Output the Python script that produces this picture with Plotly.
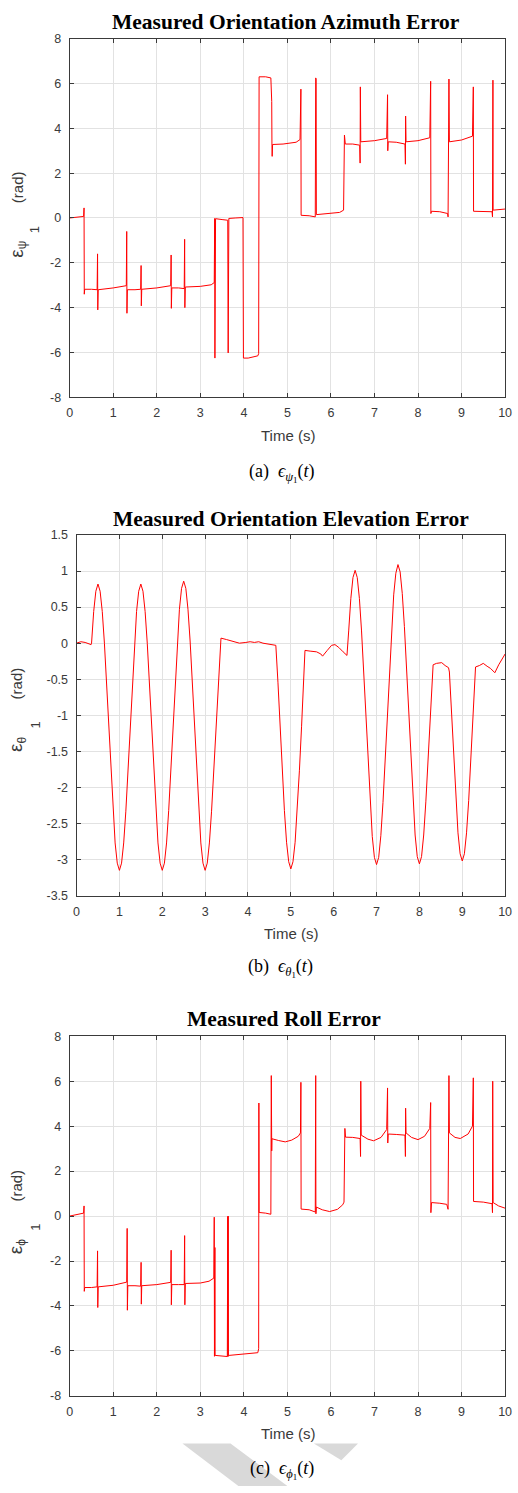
import plotly.graph_objects as go

W, H = 518, 1493

# ---------------- data ----------------
T_AZ = [0.00, 0.15, 0.32, 0.33, 0.335, 0.345, 0.50, 0.63, 0.64, 0.645, 0.655,
        1.00, 1.30, 1.31, 1.315, 1.325, 1.50, 1.63, 1.64, 1.645, 1.655,
        2.00, 2.32, 2.33, 2.335, 2.345, 2.50, 2.63, 2.64, 2.645, 2.655,
        3.00, 3.25, 3.32, 3.33, 3.335, 3.34, 3.345, 3.35, 3.50, 3.63, 3.64, 3.655,
        3.80, 3.98, 3.99, 4.10, 4.32, 4.34, 4.35, 4.50, 4.62, 4.64, 4.645, 4.65, 4.66,
        4.90, 5.20, 5.29, 5.31, 5.315, 5.50, 5.64, 5.65, 5.655, 5.66, 5.665,
        5.90, 6.20, 6.29, 6.31, 6.33, 6.50, 6.66, 6.67, 6.675, 6.685,
        7.00, 7.28, 7.30, 7.305, 7.315, 7.50, 7.70, 7.71, 7.715, 7.725,
        8.00, 8.27, 8.29, 8.295, 8.31, 8.50, 8.68, 8.69, 8.71, 8.72,
        9.00, 9.25, 9.27, 9.275, 9.50, 9.70, 9.71, 9.72, 9.725, 10.00]
Y_AZ = [0.00, 0.03, 0.07, 0.45, -3.40, -3.18, -3.18, -3.20, -1.60, -4.10, -3.20,
        -3.12, -3.02, -0.60, -4.25, -3.20, -3.20, -3.18, -2.12, -3.92, -3.18,
        -3.12, -3.02, -1.65, -4.03, -3.12, -3.12, -3.15, -0.95, -4.00, -3.08,
        -3.05, -2.98, -2.88, -0.02, -6.25, -1.50, -4.80, -0.03, -0.07, -0.10, -6.02, -0.02,
        0.00, 0.02, -6.25, -6.25, -6.15, -6.05, 6.30, 6.30, 6.25, 5.20, 3.25, 2.75, 3.28,
        3.30, 3.38, 3.50, 5.75, 0.12, 0.10, 0.05, 6.25, 1.50, 6.20, 0.15,
        0.18, 0.25, 0.35, 3.70, 3.30, 3.30, 3.25, 2.45, 5.85, 3.40,
        3.45, 3.55, 5.50, 3.00, 3.40, 3.38, 3.30, 2.40, 4.55, 3.40,
        3.45, 3.58, 6.10, 0.20, 0.30, 0.28, 0.20, 0.05, 6.20, 3.40,
        3.48, 3.65, 5.85, 0.30, 0.30, 0.28, 0.05, 6.15, 0.35, 0.40]

T_EL = [0.00, 0.10, 0.20, 0.30, 0.34, 0.35, 0.40, 0.45, 0.50, 0.55, 0.60, 0.65, 0.70, 0.75, 0.80, 0.85, 0.90, 0.95, 1.00,
        1.05, 1.10, 1.15, 1.20, 1.25, 1.30, 1.35, 1.40, 1.45, 1.50, 1.55, 1.60, 1.65, 1.70, 1.75, 1.80, 1.85, 1.90, 1.95, 2.00,
        2.05, 2.10, 2.15, 2.20, 2.25, 2.30, 2.35, 2.40, 2.45, 2.50, 2.55, 2.60, 2.65, 2.70, 2.75, 2.80, 2.85, 2.90, 2.95, 3.00,
        3.05, 3.10, 3.15, 3.20, 3.25, 3.30, 3.35, 3.37, 3.50, 3.65, 3.80, 3.95, 4.05, 4.15, 4.25, 4.35, 4.50, 4.65,
        4.70, 4.75, 4.80, 4.85, 4.90, 4.95, 5.00, 5.05, 5.10, 5.15, 5.20, 5.25, 5.30, 5.33,
        5.45, 5.60, 5.70, 5.74, 5.85, 5.95, 6.03, 6.12, 6.22, 6.31,
        6.35, 6.40, 6.45, 6.50, 6.55, 6.60, 6.65, 6.70, 6.75, 6.80, 6.85, 6.90, 6.95, 7.00,
        7.05, 7.10, 7.15, 7.20, 7.25, 7.30, 7.35, 7.40, 7.45, 7.50, 7.55, 7.60, 7.65, 7.70, 7.75, 7.80, 7.85, 7.90, 7.95, 8.00,
        8.05, 8.10, 8.15, 8.20, 8.25, 8.30, 8.32, 8.40, 8.52, 8.60, 8.68,
        8.70, 8.75, 8.80, 8.85, 8.90, 8.95, 9.00, 9.05, 9.10, 9.15, 9.20, 9.25, 9.30, 9.31,
        9.40, 9.49, 9.58, 9.66, 9.76, 9.85, 10.00]
Y_EL = [0.00, 0.02, 0.01, -0.01, -0.02, 0.00, 0.44, 0.72, 0.82, 0.72, 0.44, 0.00, -0.55, -1.17, -1.78, -2.33, -2.77, -3.05, -3.15,
        -3.05, -2.77, -2.33, -1.78, -1.17, -0.55, 0.00, 0.44, 0.72, 0.82, 0.72, 0.44, 0.00, -0.55, -1.17, -1.78, -2.33, -2.77, -3.05, -3.15,
        -3.05, -2.77, -2.32, -1.76, -1.15, -0.52, 0.03, 0.47, 0.76, 0.86, 0.76, 0.47, 0.03, -0.52, -1.15, -1.76, -2.32, -2.77, -3.05, -3.15,
        -3.05, -2.77, -2.33, -1.78, -1.17, -0.55, -0.02, 0.07, 0.05, 0.02, 0.00, 0.01, 0.02, 0.01, 0.02, 0.00, -0.01, -0.03,
        -0.55, -1.16, -1.77, -2.32, -2.76, -3.03, -3.13, -3.03, -2.76, -2.32, -1.77, -1.16, -0.55, -0.10,
        -0.11, -0.12, -0.15, -0.18, -0.10, -0.03, -0.02, -0.06, -0.12, -0.17,
        0.17, 0.62, 0.91, 1.01, 0.91, 0.62, 0.17, -0.40, -1.03, -1.66, -2.23, -2.68, -2.97, -3.07,
        -2.97, -2.67, -2.21, -1.64, -1.00, -0.36, 0.21, 0.67, 0.97, 1.09, 0.99, 0.69, 0.23, -0.34, -0.99, -1.63, -2.20, -2.66, -2.96, -3.06,
        -2.96, -2.66, -2.20, -1.63, -0.99, -0.34, -0.30, -0.28, -0.27, -0.31, -0.34,
        -0.40, -1.00, -1.62, -2.18, -2.63, -2.92, -3.02, -2.92, -2.63, -2.18, -1.62, -1.00, -0.40, -0.33,
        -0.31, -0.28, -0.32, -0.35, -0.41, -0.30, -0.15]

T_RO = [0.00, 0.15, 0.32, 0.33, 0.335, 0.345, 0.50, 0.63, 0.64, 0.645, 0.655,
        1.00, 1.31, 1.32, 1.325, 1.335, 1.50, 1.63, 1.64, 1.645, 1.655,
        2.00, 2.32, 2.33, 2.335, 2.345, 2.50, 2.63, 2.64, 2.645, 2.655,
        3.00, 3.20, 3.31, 3.32, 3.325, 3.33, 3.335, 3.34, 3.50, 3.62, 3.63, 3.635, 3.64, 3.645, 3.66,
        4.00, 4.32, 4.34, 4.345, 4.35, 4.50, 4.62, 4.63, 4.635, 4.64, 4.645,
        4.80, 4.95, 5.10, 5.25, 5.30, 5.31, 5.315, 5.50, 5.64, 5.65, 5.655, 5.665,
        5.80, 5.97, 6.15, 6.27, 6.30, 6.32, 6.335, 6.50, 6.67, 6.68, 6.685, 6.695,
        6.85, 6.98, 7.15, 7.28, 7.30, 7.305, 7.315, 7.50, 7.70, 7.71, 7.715, 7.725,
        7.85, 8.00, 8.15, 8.27, 8.29, 8.295, 8.31, 8.50, 8.66, 8.69, 8.71, 8.72,
        8.85, 8.97, 9.15, 9.25, 9.27, 9.275, 9.50, 9.70, 9.71, 9.715, 9.725, 9.85, 10.00]
Y_RO = [0.00, 0.05, 0.13, 0.45, -3.35, -3.18, -3.18, -3.15, -1.55, -4.07, -3.15,
        -3.08, -2.94, -0.55, -4.19, -3.10, -3.10, -3.12, -2.06, -3.92, -3.10,
        -3.05, -2.95, -1.52, -3.95, -3.05, -3.05, -3.05, -0.87, -3.95, -3.00,
        -2.98, -2.90, -2.76, -0.05, -6.24, -4.70, -1.40, -6.20, -6.22, -6.25, -0.02, -6.25, 0.00, -6.22, -6.20,
        -6.15, -6.08, -5.90, 5.03, 0.16, 0.13, 0.08, 6.25, 5.40, 2.90, 3.44,
        3.36, 3.30, 3.38, 3.55, 3.70, 5.95, 0.31, 0.28, 0.18, 6.25, 0.10, 0.40,
        0.28, 0.20, 0.30, 0.50, 0.62, 3.90, 3.51, 3.50, 3.45, 2.65, 6.00, 3.60,
        3.42, 3.35, 3.50, 3.85, 5.70, 3.25, 3.65, 3.63, 3.60, 2.65, 4.80, 3.70,
        3.50, 3.40, 3.55, 3.90, 5.05, 0.15, 0.60, 0.57, 0.52, 0.30, 6.25, 3.70,
        3.50, 3.45, 3.65, 4.00, 6.15, 0.65, 0.62, 0.55, 0.15, 6.00, 0.60, 0.45, 0.35]

assert len(T_AZ) == len(Y_AZ), (len(T_AZ), len(Y_AZ))
assert len(T_EL) == len(Y_EL), (len(T_EL), len(Y_EL))
assert len(T_RO) == len(Y_RO), (len(T_RO), len(Y_RO))

X_TICKS = [0, 1, 2, 3, 4, 5, 6, 7, 8, 9, 10]
X_TICK_TEXT = ["0", "1", "2", "3", "4", "5", "6", "7", "8", "9", "10"]
Y_TICKS_8 = [-8, -6, -4, -2, 0, 2, 4, 6, 8]
Y_TICK_TEXT_8 = ["-8", "-6", "-4", "-2", "0", "2", "4", "6", "8"]
Y_TICKS_EL = [-3.5, -3, -2.5, -2, -1.5, -1, -0.5, 0, 0.5, 1, 1.5]
Y_TICK_TEXT_EL = ["-3.5", "-3", "-2.5", "-2", "-1.5", "-1", "-0.5", "0", "0.5", "1", "1.5"]

TITLES = ["Measured Orientation Azimuth Error",
          "Measured Orientation Elevation Error",
          "Measured Roll Error"]
X_LABEL = "Time (s)"
SUB_SYMBOLS = ["ψ", "θ", "ϕ"]
SUB_INDEX = "1"


def y_label(sym):
    return ('<span style="font-size:19px">ε</span>'
            '<sub><span style="font-size:12px">' + sym + '</span></sub>'
            + ' ' * 9 + '(rad)')


Y_LABELS = [y_label(s) for s in SUB_SYMBOLS]
CAPTIONS = ["(a)  <i>ϵ</i><sub><i>ψ</i><sub>1</sub></sub>(<i>t</i>)",
            "(b)  <i>ϵ</i><sub><i>θ</i><sub>1</sub></sub>(<i>t</i>)",
            "(c)  <i>ϵ</i><sub><i>ϕ</i><sub>1</sub></sub>(<i>t</i>)"]

# ---------------- layout (pixel geometry) ----------------
def px(x):
    return x / W

def py(y):
    return 1 - y / H

PANELS = [
    dict(l=68, r=512, t=32, b=394, yr=[-8, 8], yt=Y_TICKS_8, ytt=Y_TICK_TEXT_8,
         title_y=15, xlabel_y=433, cap_y=470, ylab_y=210, title_x=289, cap_x=285, xlab_x=291),
    dict(l=75, r=512, t=533, b=897, yr=[-3.5, 1.5], yt=Y_TICKS_EL, ytt=Y_TICK_TEXT_EL,
         title_y=517, xlabel_y=935, cap_y=970, ylab_y=710, title_x=294, cap_x=283, xlab_x=294),
    dict(l=68, r=512, t=1039, b=1402, yr=[-8, 8], yt=Y_TICKS_8, ytt=Y_TICK_TEXT_8,
         title_y=1022, xlabel_y=1440, cap_y=1477, ylab_y=1217, title_x=287, cap_x=284, xlab_x=291),
]
DATA = [(T_AZ, Y_AZ), (T_EL, Y_EL), (T_RO, Y_RO)]

AX_COLOR = "#3a3a3a"
GRID = "#e2e2e2"
TICK_FONT = dict(family="Liberation Sans, Arial, sans-serif", size=12.5, color="#3a3a3a")
LABEL_FONT = dict(family="Liberation Sans, Arial, sans-serif", size=15, color="#3a3a3a")

fig = go.Figure()
layout = dict(width=W, height=H, margin=dict(l=0, r=0, t=0, b=0),
              paper_bgcolor="white", plot_bgcolor="white", showlegend=False)
annotations = []

for i, (p, (tx, ty)) in enumerate(zip(PANELS, DATA)):
    n = "" if i == 0 else str(i + 1)
    fig.add_trace(go.Scatter(x=tx, y=ty, mode="lines", xaxis="x" + n, yaxis="y" + n,
                             line=dict(color="#ff0000", width=1), hoverinfo="skip"))
    layout["xaxis" + n] = dict(domain=[px(p["l"]), px(p["r"])], anchor="y" + n,
                               range=[0, 10], tickvals=X_TICKS, ticktext=X_TICK_TEXT,
                               showgrid=True, gridcolor=GRID, gridwidth=1, zeroline=False,
                               showline=True, linecolor=AX_COLOR, linewidth=1, mirror="ticks",
                               ticks="inside", ticklen=4, tickcolor=AX_COLOR,
                               tickfont=TICK_FONT, ticklabelstandoff=4,
                               ticklabeloverflow="allow")
    layout["yaxis" + n] = dict(domain=[py(p["b"]), py(p["t"])], anchor="x" + n,
                               range=p["yr"], tickvals=p["yt"], ticktext=p["ytt"],
                               showgrid=True, gridcolor=GRID, gridwidth=1, zeroline=False,
                               showline=True, linecolor=AX_COLOR, linewidth=1, mirror="ticks",
                               ticks="inside", ticklen=4, tickcolor=AX_COLOR,
                               tickfont=TICK_FONT, ticklabelstandoff=5,
                               ticklabeloverflow="allow")
    annotations.append(dict(text="<b>" + TITLES[i] + "</b>", x=px(p["title_x"]), y=py(p["title_y"]),
                            xref="paper", yref="paper", showarrow=False,
                            xanchor="center", yanchor="middle",
                            font=dict(family="Liberation Serif, Times New Roman, serif", size=21.5, color="black")))
    annotations.append(dict(text=X_LABEL, x=px(p["xlab_x"]), y=py(p["xlabel_y"]),
                            xref="paper", yref="paper", showarrow=False,
                            xanchor="center", yanchor="middle",
                            font=dict(family="Liberation Sans, Arial, sans-serif", size=15, color="#3a3a3a")))
    annotations.append(dict(text=Y_LABELS[i], x=px(14), y=py(p["ylab_y"]),
                            xref="paper", yref="paper", showarrow=False, textangle=-90,
                            xanchor="center", yanchor="middle", font=LABEL_FONT))
    # second-level subscript "1" of the y label
    annotations.append(dict(text=SUB_INDEX, x=px(33), y=py(p["ylab_y"] + 15),
                            xref="paper", yref="paper", showarrow=False, textangle=-90,
                            xanchor="center", yanchor="middle",
                            font=dict(family="Liberation Sans, Arial, sans-serif", size=13, color="#3a3a3a")))
    annotations.append(dict(text=CAPTIONS[i], x=px(p["cap_x"]), y=py(p["cap_y"]),
                            xref="paper", yref="paper", showarrow=False,
                            xanchor="center", yanchor="middle",
                            font=dict(family="Liberation Serif, Times New Roman, serif", size=18, color="black")))

# light-grey decorative marks behind the last caption
SHAPE_A = "M {} {} L {} {} L {} {} L {} {} Z".format(px(183), py(1450), px(232), py(1450), px(290), py(1493), px(240), py(1493))
SHAPE_B = "M {} {} L {} {} L {} {} Z".format(px(317), py(1450), px(362), py(1450), px(345), py(1467))
layout["shapes"] = [
    dict(type="path", path=SHAPE_A, xref="paper", yref="paper", fillcolor="#d9d9d9", line=dict(width=0), layer="below"),
    dict(type="path", path=SHAPE_B, xref="paper", yref="paper", fillcolor="#d9d9d9", line=dict(width=0), layer="below"),
]
layout["annotations"] = annotations
fig.update_layout(**layout)
fig.write_html("out.html")
